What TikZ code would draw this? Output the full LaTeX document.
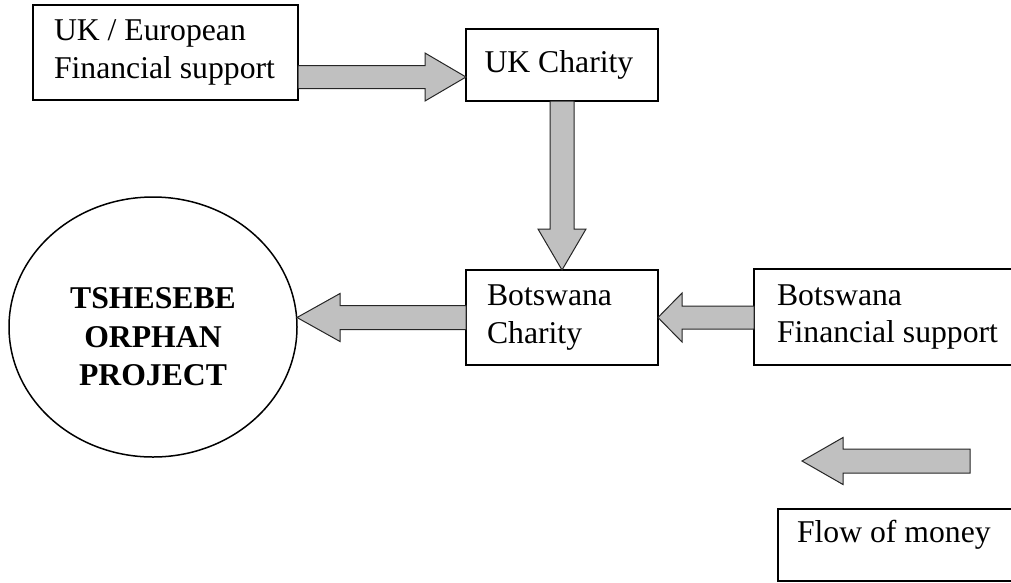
\documentclass[tikz,border=0pt]{standalone}
\usepackage{fontspec}
\setmainfont{Liberation Serif}
\usetikzlibrary{calc,shapes.geometric}
\definecolor{arrowgray}{RGB}{192,192,192}
% #1 tail, #2 tip, #3 shaft half width, #4 head half width, #5 head length
\newcommand{\blockarr}[5]{%
  \coordinate (ba-h) at ($(#2)!#5!(#1)$);
  \draw[blockarrow] ($(#1)!#3!90:(#2)$) -- ($(ba-h)!#3!-90:(#1)$)
    -- ($(ba-h)!#4!-90:(#1)$) -- (#2) -- ($(ba-h)!#4!90:(#1)$)
    -- ($(ba-h)!#3!90:(#1)$) -- ($(#1)!#3!-90:(#2)$) -- cycle;}
\begin{document}
\begin{tikzpicture}[x=1pt,y=-1pt,
  txt/.style={font=\fontsize{31.7pt}{37.5pt}\selectfont},
  box/.style={txt, draw, line width=1.6pt, inner ysep=0pt, outer sep=0pt, align=flush left, anchor=north west},
  blockarrow/.style={fill=arrowgray, draw=black!85, line width=1pt, line join=miter},
  project/.style={draw, ellipse, line width=1.5pt, outer sep=0pt, inner sep=0pt,
    minimum width=288pt, minimum height=260pt, align=center,
    font=\fontsize{31.7pt}{38.5pt}\selectfont\bfseries}]
\useasboundingbox (0,0) rectangle (1011,582);
\clip (0,0) rectangle (1011,582);
\node[box, minimum height=95pt, inner xsep=21pt, text width=223pt] (ukeu) at (33,5) {\mbox{UK / European}\\\mbox{Financial support}};
\node[box, minimum height=72pt, inner xsep=18.5pt, text width=155pt] (ukc) at (466,29) {\mbox{UK Charity}};
\node[box, minimum height=95pt, inner xsep=21pt, text width=150pt] (bc) at (466,270) {Botswana\\Charity};
\node[box, minimum height=96pt, inner xsep=23pt, text width=226pt] (bf) at (754,269) {Botswana\\\mbox{Financial support}};
\node[box, text height=33pt, text depth=39pt, inner xsep=19pt, text width=230pt] (flow) at (778,509) {\mbox{Flow of money}};
\node[project] (proj) at (153,327) {\rule{0pt}{41pt}TSHESEBE\\ORPHAN\\PROJECT};
% connectors
\coordinate (y77) at (0,77);
\coordinate (a1s) at (ukeu.east |- y77);
\coordinate (a1e) at (ukc.west |- y77);
\coordinate (a3s) at (bf.west |- bc.east);
\coordinate (a4e) at (proj.east |- bc.west);
\coordinate (lgs) at (970,461);
\coordinate (lge) at (802,461);
\blockarr{a1s}{a1e}{11.5pt}{24pt}{41pt}
\blockarr{ukc.south}{bc.north}{12pt}{24pt}{41pt}
\blockarr{a3s}{bc.east}{11.5pt}{24.5pt}{24pt}
\blockarr{bc.west}{a4e}{12pt}{24pt}{43pt}
\blockarr{lgs}{lge}{12pt}{23.5pt}{41pt}
\end{tikzpicture}
\end{document}
